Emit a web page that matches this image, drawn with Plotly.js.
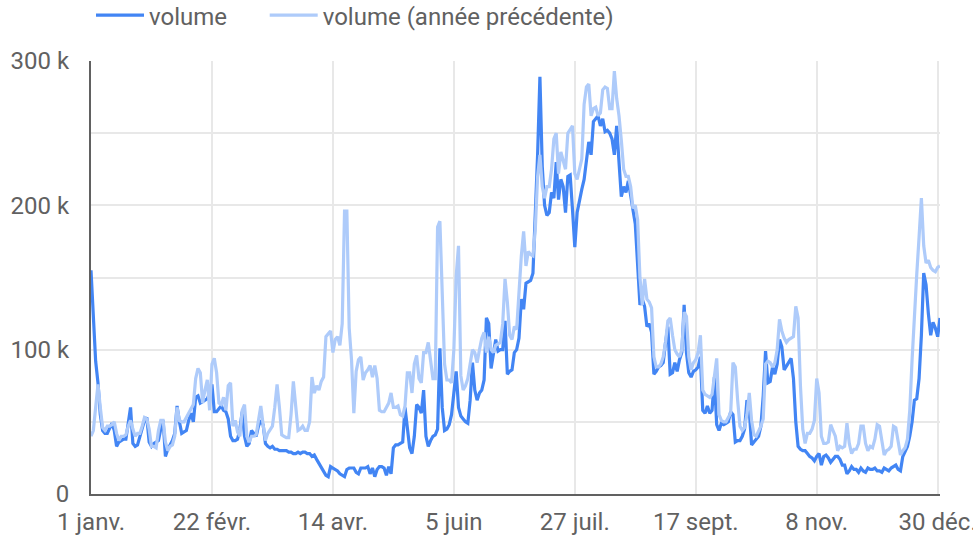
<!DOCTYPE html>
<html>
<head>
<meta charset="utf-8">
<script src="https://cdn.plot.ly/plotly-3.0.1.min.js"></script>
<style>
  html, body { margin: 0; padding: 0; background: #ffffff; }
  #chart { width: 973px; height: 535px; }
</style>
</head>
<body>
<div id="chart"></div>
<script>
// Daily values in thousands, 1 Jan 2020 -> 31 Dec 2020 (366 days)
const startDate = '2020-01-01';

const volume = [
  155, 118, 92, 77, 55, 44, 42, 42, 46, 49,
  44, 33, 36, 37, 38, 38, 50, 60, 35, 33,
  34, 40, 46, 51, 53, 36, 33, 35, 36, 37,
  45, 51, 26, 31, 34, 37, 42, 61, 50, 42,
  43, 44, 51, 56, 50, 67, 68, 63, 64, 65,
  66, 70, 76, 57, 57, 59, 61, 58, 57, 52,
  40, 37, 37, 38, 45, 57, 40, 33, 35, 44,
  42, 40, 47, 51, 48, 35, 33, 32, 33, 31,
  31, 30, 30, 30, 30, 29, 29, 28, 28, 29,
  28, 29, 29, 28, 28, 26, 27, 24, 21, 19,
  16, 13, 12, 19, 18, 17, 16, 14, 13, 12,
  17, 18, 18, 18, 15, 14, 18, 18, 18, 19,
  14, 18, 12, 17, 19, 19, 18, 13, 19, 14,
  32, 34, 34, 35, 36, 60, 45, 32, 28, 40,
  62, 60, 56, 72, 40, 33, 37, 40, 41, 45,
  101, 60, 44, 45, 48, 55, 70, 85, 60, 54,
  52, 50, 49, 65, 91, 72, 65, 70, 72, 79,
  122, 118, 87, 99, 107, 99, 100, 100, 120, 83,
  85, 86, 98, 100, 108, 135, 128, 146, 147, 148,
  153, 190, 235, 289, 227, 200, 193, 195, 209, 205,
  230, 204, 218, 213, 195, 220, 221, 197, 171, 195,
  204, 211, 218, 232, 244, 235, 258, 260, 262, 255,
  260, 251, 252, 250, 246, 235, 255, 230, 206, 213,
  209, 217, 205, 197, 187, 160, 131, 135, 130, 116,
  118, 112, 83, 85, 88, 89, 91, 105, 116, 83,
  84, 91, 85, 93, 98, 131, 98, 84, 81, 85,
  86, 88, 95, 58, 56, 61, 56, 58, 81, 48,
  44, 49, 48, 49, 50, 57, 55, 36, 37, 37,
  40, 45, 65, 58, 34, 36, 38, 40, 47, 68,
  99, 77, 78, 88, 83, 90, 107, 102, 86, 89,
  92, 94, 80, 50, 33, 31, 30, 30, 28, 26,
  25, 23, 26, 28, 20, 26, 27, 25, 22, 24,
  26, 26, 24, 20, 20, 14, 16, 19, 17, 17,
  15, 18, 16, 15, 18, 17, 17, 18, 16, 16,
  15, 18, 17, 16, 18, 19, 20, 17, 16, 26,
  29, 33, 40, 50, 65, 66, 80, 110, 153, 145,
  125, 110, 119, 115, 109, 122
];

const volumePrev = [
  40, 44, 60, 76, 60, 46, 44, 47, 47, 48,
  50, 42, 37, 40, 40, 41, 47, 51, 45, 40,
  42, 42, 47, 53, 52, 45, 33, 33, 32, 44,
  51, 51, 36, 30, 33, 34, 40, 60, 51, 50,
  50, 53, 55, 58, 62, 80, 87, 84, 63, 72,
  79, 58, 90, 94, 84, 63, 62, 67, 58, 75,
  77, 47, 51, 43, 40, 58, 62, 40, 36, 40,
  40, 41, 50, 61, 48, 37, 42, 45, 47, 60,
  76, 60, 41, 40, 39, 39, 55, 78, 60, 44,
  45, 47, 44, 44, 50, 81, 70, 75, 72, 78,
  81, 109, 111, 113, 98, 107, 109, 103, 118, 196,
  196, 115, 93, 56, 85, 93, 95, 79, 84, 86,
  89, 81, 89, 80, 58, 57, 57, 60, 63, 70,
  60, 60, 61, 55, 54, 61, 84, 84, 70, 90,
  96, 80, 77, 98, 98, 105, 90, 80, 80, 185,
  189, 135, 90, 79, 79, 77, 100, 151, 172, 82,
  72, 75, 80, 90, 100, 98, 91, 100, 108, 112,
  98, 109, 100, 98, 103, 104, 105, 118, 149, 133,
  110, 107, 116, 114, 140, 165, 182, 158, 168, 166,
  165, 183, 220, 235, 213, 205, 213, 213, 225, 246,
  250, 222, 237, 230, 225, 250, 253, 255, 222, 218,
  225, 232, 270, 282, 284, 262, 267, 268, 262, 264,
  280, 282, 281, 267, 267, 293, 274, 262, 245, 225,
  220, 220, 213, 198, 200, 190, 150, 131, 149, 135,
  133, 129, 95, 88, 88, 90, 95, 105, 120, 122,
  110, 100, 97, 95, 100, 126, 123, 95, 86, 91,
  93, 98, 110, 72, 69, 68, 67, 69, 80, 94,
  55, 51, 50, 50, 53, 56, 91, 88, 65, 47,
  44, 46, 55, 70, 51, 41, 40, 43, 47, 52,
  90, 92, 91, 88, 91, 100, 121, 113, 108, 105,
  107, 108, 109, 130, 122, 75, 45, 35, 42, 42,
  45, 51, 80, 70, 40, 35, 35, 36, 48, 44,
  40, 30, 33, 32, 33, 49, 35, 28, 31, 31,
  35, 47, 47, 35, 30, 33, 32, 38, 48, 47,
  35, 27, 30, 31, 33, 47, 46, 35, 27, 30,
  32, 38, 58, 93, 125, 152, 178, 205, 172, 160,
  162, 157, 155, 154, 157, 158
];

const xTickVals = ['2020-01-01', '2020-02-22', '2020-04-14', '2020-06-05', '2020-07-27', '2020-09-17', '2020-11-08', '2020-12-30'];
const xTickText = ['1 janv.', '22 févr.', '14 avr.', '5 juin', '27 juil.', '17 sept.', '8 nov.', '30 déc.'];
const yTickVals = [0, 50, 100, 150, 200, 250, 300];
const yTickText = ['0', '', '100 k', '', '200 k', '', '300 k'];
const seriesNames = ['volume', 'volume (année précédente)'];
const seriesColors = ['#4285f4', '#aecbfa'];

// Build the date axis from the start date (one point per day)
function buildDates(start, n) {
  const out = [];
  const t0 = Date.parse(start + 'T00:00:00Z');
  for (let i = 0; i < n; i++) {
    out.push(new Date(t0 + i * 86400000).toISOString().slice(0, 10));
  }
  return out;
}
const dates = buildDates(startDate, volume.length);

const textColor = '#616161';
const font = { family: 'Roboto, "Open Sans", sans-serif', size: 24, color: textColor };

const traces = [
  { x: dates, y: volume, type: 'scatter', mode: 'lines', name: seriesNames[0],
    legend: 'legend',
    line: { color: seriesColors[0], width: 3.2 } },
  { x: dates, y: volumePrev, type: 'scatter', mode: 'lines', name: seriesNames[1],
    legend: 'legend2',
    line: { color: seriesColors[1], width: 3.2 } }
];

const legendBase = {
  orientation: 'h', xanchor: 'left', y: 1.105, yanchor: 'middle',
  font: font, bgcolor: 'rgba(0,0,0,0)', itemwidth: 48
};

const layout = {
  width: 973, height: 535,
  margin: { l: 91, r: 33, t: 61, b: 41, pad: 0, autoexpand: false },
  paper_bgcolor: '#ffffff', plot_bgcolor: '#ffffff',
  font: font,
  showlegend: true,
  legend: Object.assign({}, legendBase, { x: 0.0 }),
  legend2: Object.assign({}, legendBase, { x: 0.2046 }),
  xaxis: {
    type: 'date', range: ['2020-01-01', '2020-12-31'],
    tickmode: 'array', tickvals: xTickVals, ticktext: xTickText,
    showgrid: true, gridcolor: '#e8e8e8', gridwidth: 2,
    showline: true, linecolor: '#616161', linewidth: 2,
    zeroline: false, ticks: '', ticklabelstandoff: 5,
    ticklabeloverflow: 'allow',
    tickfont: font, fixedrange: true
  },
  yaxis: {
    range: [0, 300],
    tickmode: 'array', tickvals: yTickVals, ticktext: yTickText,
    showgrid: true, gridcolor: '#e8e8e8', gridwidth: 2,
    showline: true, linecolor: '#616161', linewidth: 2,
    zeroline: false, ticks: '', ticklabelstandoff: 15,
    tickfont: font, fixedrange: true
  },
  hovermode: false
};

Plotly.newPlot('chart', traces, layout, { displayModeBar: false, staticPlot: true });
</script>
</body>
</html>
